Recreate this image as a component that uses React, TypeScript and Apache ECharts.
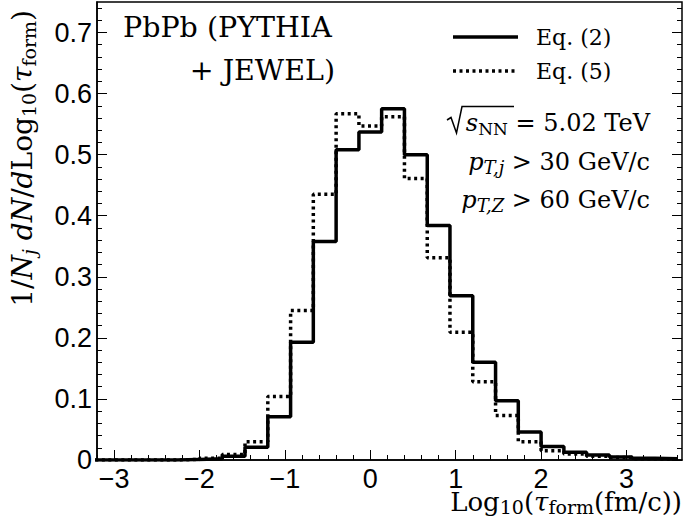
import React, { useEffect, useRef } from 'react';
import * as echarts from 'echarts';

// Histogram bin edges (27 bins) and contents
const binEdges = [-3.6, -3.333, -3.067, -2.8, -2.533, -2.267, -2.0, -1.733, -1.467, -1.2, -0.933, -0.667, -0.4, -0.133, 0.133, 0.4, 0.667, 0.933, 1.2, 1.467, 1.733, 2.0, 2.267, 2.533, 2.8, 3.067, 3.333, 3.6];
const eq2Values = [0, 0, 0, 0, 0, 0.001, 0.002, 0.006, 0.021, 0.071, 0.193, 0.358, 0.508, 0.537, 0.575, 0.5, 0.384, 0.269, 0.16, 0.097, 0.046, 0.022, 0.0125, 0.008, 0.005, 0.003, 0.002];
const eq5Values = [0, 0, 0, 0, 0, 0.001, 0.003, 0.009, 0.03, 0.104, 0.245, 0.435, 0.567, 0.547, 0.562, 0.461, 0.331, 0.209, 0.128, 0.073, 0.03, 0.015, 0.01, 0.006, 0.004, 0.002, 0.001];
const seriesNames = ['Eq. (2)', 'Eq. (5)'];

const xMajorTicks = [-3, -2, -1, 0, 1, 2, 3];
const yMajorTicks = [0, 0.1, 0.2, 0.3, 0.4, 0.5, 0.6, 0.7];
const xMinorTicks: number[] = [];
for (let k = -16; k <= 18; k++) xMinorTicks.push(Math.round(k * 0.2 * 100) / 100);
const yMinorTicks: number[] = [];
for (let k = 0; k <= 37; k++) yMinorTicks.push(Math.round(k * 0.02 * 1000) / 1000);

const X_MIN = -3.2;
const X_MAX = 3.65;
const Y_MIN = 0;
const Y_MAX = 0.75;

const SERIF = "'DejaVu Serif', serif";
const SANS = "'Liberation Sans', Arial, sans-serif";
const DOTS = [3, 3.5];

function histPoints(values: number[]) {
  const pts: number[][] = values.map((v, i) => [binEdges[i], v]);
  pts.push([binEdges[values.length], values[values.length - 1]]);
  return pts;
}

function richStyles(size: number, subSize: number, subPad: number, lh?: number, subLh?: number) {
  const l = lh ? { lineHeight: lh } : {};
  const sl = subLh ? { lineHeight: subLh } : {};
  return {
    r: { fontFamily: SERIF, fontSize: size, fill: '#000', verticalAlign: 'middle', ...l },
    i: { fontFamily: SERIF, fontSize: size, fontStyle: 'italic', fill: '#000', verticalAlign: 'middle', ...l },
    sub: { fontFamily: SERIF, fontSize: subSize, fill: '#000', verticalAlign: 'middle', padding: [subPad, 0, 0, 0], ...sl },
    subi: { fontFamily: SERIF, fontSize: subSize, fontStyle: 'italic', fill: '#000', verticalAlign: 'middle', padding: [subPad, 0, 0, 0], ...sl },
  };
}

const noLine = { show: false, onZero: false };

export default function App() {
  const ref = useRef<HTMLDivElement>(null);
  useEffect(() => {
    document.body.style.margin = '0';
    const chart = echarts.init(ref.current!, null, { renderer: 'svg' });
    const tickLine = { color: '#000', width: 1 };
    const option: any = {
      animation: false,
      backgroundColor: '#fff',
      grid: {
        left: 97, right: 3, top: 2, bottom: 58,
        show: true, borderColor: '#000', borderWidth: 1.5, backgroundColor: 'transparent',
      },
      xAxis: [
        {
          type: 'value', min: X_MIN, max: X_MAX, position: 'bottom',
          axisLine: { show: true, onZero: false, lineStyle: { color: '#000', width: 1.5 } },
          axisTick: { show: true, inside: true, length: 10, customValues: xMajorTicks, lineStyle: tickLine },
          axisLabel: {
            customValues: xMajorTicks, fontFamily: SANS, fontSize: 27, lineHeight: 20, color: '#000', margin: 8.5,
            formatter: (v: number) => String(v).replace('-', '\u2212'),
          },
          splitLine: { show: false },
        },
        {
          type: 'value', min: X_MIN, max: X_MAX, position: 'bottom',
          axisLine: noLine,
          axisTick: { show: true, inside: true, length: 5, customValues: xMinorTicks, lineStyle: tickLine },
          axisLabel: { show: false },
          splitLine: { show: false },
        },
      ],
      yAxis: [
        {
          type: 'value', min: Y_MIN, max: Y_MAX, position: 'left',
          axisLine: { show: true, onZero: false, lineStyle: { color: '#000', width: 1.5 } },
          axisTick: { show: true, inside: true, length: 10, customValues: yMajorTicks, lineStyle: tickLine },
          axisLabel: {
            customValues: yMajorTicks, fontFamily: SANS, fontSize: 27, color: '#000', margin: 5,
            formatter: (v: number) => String(v),
          },
          splitLine: { show: false },
        },
        {
          type: 'value', min: Y_MIN, max: Y_MAX, position: 'left',
          axisLine: noLine,
          axisTick: { show: true, inside: true, length: 5, customValues: yMinorTicks, lineStyle: tickLine },
          axisLabel: { show: false }, splitLine: { show: false },
        },
        {
          type: 'value', min: Y_MIN, max: Y_MAX, position: 'right',
          axisLine: noLine,
          axisTick: { show: true, inside: true, length: 10, customValues: yMajorTicks, lineStyle: tickLine },
          axisLabel: { show: false }, splitLine: { show: false },
        },
        {
          type: 'value', min: Y_MIN, max: Y_MAX, position: 'right',
          axisLine: noLine,
          axisTick: { show: true, inside: true, length: 5, customValues: yMinorTicks, lineStyle: tickLine },
          axisLabel: { show: false }, splitLine: { show: false },
        },
      ],
      series: [
        {
          name: seriesNames[1], type: 'line', step: 'end', symbol: 'none', clip: true,
          data: histPoints(eq5Values), z: 2,
          lineStyle: { color: '#000', width: 3.5, type: DOTS, cap: 'butt' },
        },
        {
          name: seriesNames[0], type: 'line', step: 'end', symbol: 'none', clip: true,
          data: histPoints(eq2Values), z: 3,
          lineStyle: { color: '#000', width: 3.5, type: 'solid' },
        },
      ],
      graphic: [
        // legend
        { type: 'line', shape: { x1: 453, y1: 37, x2: 518, y2: 37 }, style: { stroke: '#000', lineWidth: 3.5 } },
        { type: 'line', shape: { x1: 453, y1: 71, x2: 518, y2: 71 }, style: { stroke: '#000', lineWidth: 3.5, lineDash: DOTS } },
        {
          type: 'text', x: 536, y: 37,
          style: { text: seriesNames[0], fontFamily: SERIF, fontSize: 22, fill: '#000', align: 'left', verticalAlign: 'middle' },
        },
        {
          type: 'text', x: 536, y: 71,
          style: { text: seriesNames[1], fontFamily: SERIF, fontSize: 22, fill: '#000', align: 'left', verticalAlign: 'middle' },
        },
        {
          type: 'text', x: 123, y: 27,
          style: { text: 'PbPb (PYTHIA', fontFamily: SERIF, fontSize: 28.5, fill: '#000', align: 'left', verticalAlign: 'middle' },
        },
        {
          type: 'text', x: 335, y: 70,
          style: { text: '+ JEWEL)', fontFamily: SERIF, fontSize: 28.5, fill: '#000', align: 'right', verticalAlign: 'middle' },
        },
        {
          type: 'polyline',
          shape: { points: [[447, 120], [451, 117.5], [456.5, 133], [462, 106.5], [514, 106.5]] },
          style: { stroke: '#000', lineWidth: 1.5, fill: null },
        },
        {
          type: 'text', x: 650, y: 123,
          style: {
            text: '{i|s}{sub|NN}{r| = 5.02 TeV}', align: 'right', verticalAlign: 'middle',
            rich: richStyles(24, 17, 11),
          },
        },
        {
          type: 'text', x: 650, y: 162,
          style: {
            text: '{i|p}{subi|T,j}{r| > 30 GeV/c}', align: 'right', verticalAlign: 'middle',
            rich: richStyles(24, 18, 11),
          },
        },
        {
          type: 'text', x: 650, y: 200,
          style: {
            text: '{i|p}{subi|T,Z}{r| > 60 GeV/c}', align: 'right', verticalAlign: 'middle',
            rich: richStyles(24, 18, 11),
          },
        },
        {
          type: 'text', x: 682, y: 502,
          style: {
            text: '{r|Log}{sub|10}{r|(}{i|\u03C4}{sub|form}{r|(fm/c))}', align: 'right', verticalAlign: 'middle',
            rich: richStyles(26, 19, 9, 22, 14),
          },
        },
        {
          type: 'text', x: 22, y: 10, rotation: Math.PI / 2,
          style: {
            text: '{r|1/}{i|N}{subi|j}{r| }{i|dN}{r|/}{i|d}{r|Log}{sub|10}{r|(}{i|\u03C4}{sub|form}{r|)}',
            align: 'right', verticalAlign: 'middle',
            rich: richStyles(28, 19, 13),
          },
        },
      ],
    };
    chart.setOption(option);
    return () => chart.dispose();
  }, []);
  return <div ref={ref} style={{ width: 685, height: 518 }} />;
}
